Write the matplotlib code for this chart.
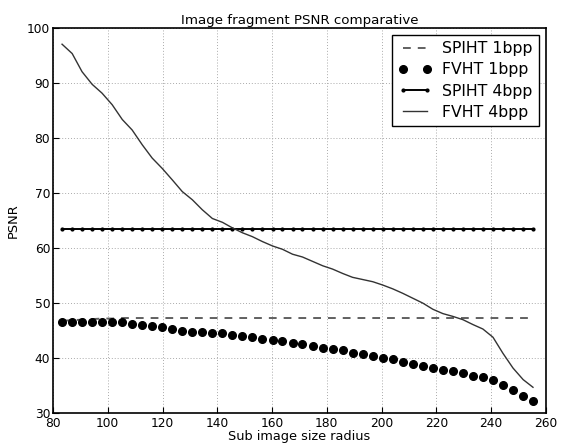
import matplotlib
matplotlib.use('Agg')
import matplotlib.pyplot as plt

# Sub image radius (x axis)
raio = [83.3, 87.0, 90.6, 94.3, 97.9, 101.6, 105.3, 108.9, 112.6, 116.2, 119.9, 123.6,
        127.2, 130.9, 134.5, 138.2, 141.9, 145.5, 149.2, 152.8, 156.5, 160.2, 163.8, 167.5,
        171.1, 174.8, 178.5, 182.1, 185.8, 189.4, 193.1, 196.8, 200.4, 204.1, 207.7, 211.4,
        215.1, 218.7, 222.4, 226.0, 229.7, 233.4, 237.0, 240.7, 244.3, 248.0, 251.7, 255.3]

# PSNR values
spiht_1bpp = [46.7, 46.8, 46.9, 47.0, 47.1, 47.1, 47.2, 47.2, 47.2, 47.2, 47.2, 47.2,
              47.2, 47.2, 47.2, 47.2, 47.2, 47.2, 47.2, 47.2, 47.2, 47.2, 47.2, 47.2,
              47.2, 47.2, 47.2, 47.2, 47.2, 47.2, 47.2, 47.2, 47.2, 47.2, 47.2, 47.2,
              47.2, 47.2, 47.2, 47.2, 47.2, 47.2, 47.2, 47.2, 47.2, 47.2, 47.2, 47.2]
fvht_1bpp = [46.4, 46.4, 46.4, 46.4, 46.5, 46.5, 46.4, 46.1, 45.9, 45.8, 45.6, 45.2,
             44.9, 44.7, 44.6, 44.4, 44.4, 44.1, 43.9, 43.7, 43.4, 43.2, 43.0, 42.7,
             42.5, 42.1, 41.8, 41.6, 41.3, 40.9, 40.7, 40.3, 40.0, 39.7, 39.2, 38.8,
             38.5, 38.1, 37.7, 37.5, 37.2, 36.7, 36.4, 35.9, 35.0, 34.1, 33.0, 32.1]
spiht_4bpp = [63.3, 63.3, 63.3, 63.3, 63.3, 63.3, 63.3, 63.3, 63.3, 63.3, 63.3, 63.3,
              63.3, 63.3, 63.3, 63.3, 63.3, 63.3, 63.3, 63.3, 63.3, 63.3, 63.3, 63.3,
              63.3, 63.3, 63.3, 63.3, 63.3, 63.3, 63.3, 63.3, 63.3, 63.3, 63.3, 63.3,
              63.3, 63.3, 63.3, 63.3, 63.3, 63.3, 63.3, 63.3, 63.3, 63.3, 63.3, 63.3]
fvht_4bpp = [97.0, 95.3, 92.0, 89.7, 88.1, 86.0, 83.3, 81.4, 78.7, 76.3, 74.4, 72.3,
             70.2, 68.7, 66.9, 65.3, 64.6, 63.6, 62.7, 62.0, 61.1, 60.3, 59.7, 58.8,
             58.3, 57.5, 56.7, 56.1, 55.3, 54.6, 54.2, 53.8, 53.2, 52.5, 51.7, 50.8,
             49.9, 48.8, 48.0, 47.5, 46.9, 46.0, 45.2, 43.7, 40.8, 38.1, 36.0, 34.6]

xticks = [80, 100, 120, 140, 160, 180, 200, 220, 240, 260]
yticks = [30, 40, 50, 60, 70, 80, 90, 100]

fig = plt.figure(figsize=(5.61, 4.47), dpi=100)
ax = fig.add_axes([0.0945, 0.077, 0.8785, 0.861])

# Curvas
ax.plot(raio, spiht_1bpp, '--', color='#606060', lw=1.4, dashes=(4, 3.6), label='SPIHT 1bpp')
ax.plot(raio, fvht_1bpp, 'o', color='black', ms=5.5, label='FVHT 1bpp')
ax.plot(raio, spiht_4bpp, '.-', color='black', lw=1.4, ms=4, label='SPIHT 4bpp')
ax.plot(raio, fvht_4bpp, '-', color='#333333', lw=1.0, label='FVHT 4bpp')

# Eixos
ax.set_xlim(80, 260)
ax.set_ylim(30, 100)
ax.set_xticks(xticks)
ax.set_yticks(yticks)
ax.tick_params(direction='in', labelsize=8.8, length=4)
ax.tick_params(axis='x', pad=3.5)
ax.tick_params(axis='y', pad=2)
ax.grid(True, linestyle=(0, (1, 2)), color='#aaaaaa', lw=0.7)
for s in ax.spines.values():
    s.set_linewidth(1.2)

ax.set_xlabel('Sub image size radius', fontsize=9.3, labelpad=0)
ax.set_ylabel('PSNR', fontsize=9.3, labelpad=5)
ax.set_title('Image fragment PSNR comparative', fontsize=9.6, pad=3)

# Legenda com dois marcadores por entrada
leg = ax.legend(loc='upper right', fontsize=11.3, numpoints=2, fancybox=False,
                framealpha=1, edgecolor='black', handlelength=2.13, handletextpad=0.66,
                borderpad=0.4, borderaxespad=0.45, labelspacing=0.4)
leg.get_frame().set_linewidth(1.0)

fig.savefig('out.png', dpi=100)
